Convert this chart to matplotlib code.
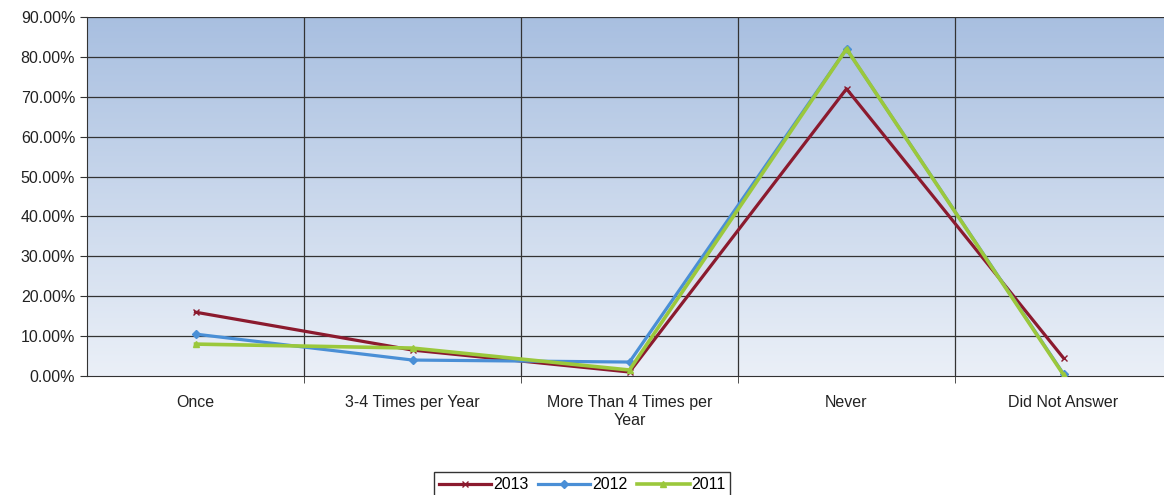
import matplotlib.pyplot as plt
import numpy as np
from matplotlib.ticker import FuncFormatter

plt.rcParams['font.family'] = ['Liberation Sans', 'DejaVu Sans']

categories = ['Once', '3-4 Times per Year', 'More Than 4 Times per\nYear', 'Never', 'Did Not Answer']
vals_2013 = [16.0, 6.5, 1.0, 72.0, 4.5]
vals_2012 = [10.5, 4.0, 3.5, 82.0, 0.5]
vals_2011 = [8.0, 7.0, 1.5, 82.0, 0.3]

fig = plt.figure(figsize=(11.64, 4.95), dpi=100)
# plot area runs a bit past the right edge like the original export
ax = fig.add_axes([87 / 1164, 1 - 376 / 495, 1085 / 1164, 359 / 495])

# blue gradient background, darker at the top
grad = np.linspace(0, 1, 256).reshape(-1, 1)
top = np.array([0.66, 0.75, 0.88])
bot = np.array([0.92, 0.94, 0.97])
img = bot + (top - bot) * grad
ax.imshow(img[:, None, :].repeat(2, axis=1), extent=[0, 1, 0, 1], transform=ax.transAxes,
          aspect='auto', origin='lower', zorder=0)

x = np.arange(len(categories))
ax.set_xlim(-0.5, len(categories) - 0.5)
ax.set_ylim(0, 90)
ax.set_yticks(np.arange(0, 91, 10))
ax.yaxis.set_major_formatter(FuncFormatter(lambda v, p: '%.2f%%' % v))

for yv in np.arange(10, 91, 10):
    ax.axhline(yv, color='#333333', lw=0.9, zorder=1)
for xv in np.arange(0.5, len(categories) - 0.5, 1):
    ax.axvline(xv, color='#333333', lw=0.9, zorder=1)

ax.plot(x, vals_2013, color='#8b1a2e', lw=2.3, marker='x', ms=4, mew=1.0, label='2013', zorder=3)
ax.plot(x, vals_2012, color='#4a8fd6', lw=2.3, marker='D', ms=4, label='2012', zorder=4)
ax.plot(x, vals_2011, color='#9bc83c', lw=2.6, marker='^', ms=4, label='2011', zorder=5)

ax.set_xticks(x)
ax.set_xticklabels(categories, fontsize=11.5, color='#222222')
for lbl in ax.get_xticklabels():
    lbl.set_x(lbl.get_position()[0])
ax.set_xticks(np.arange(0.5, len(categories) - 0.5, 1), minor=True)
ax.tick_params(axis='x', which='major', length=0, pad=14)
ax.tick_params(axis='x', which='minor', length=5, color='#333333')
ax.tick_params(axis='y', length=5, labelsize=11.5, labelcolor='#222222', color='#333333')

for s in ['top', 'right']:
    ax.spines[s].set_visible(False)
ax.spines['left'].set_color('#333333')
ax.spines['bottom'].set_color('#333333')

fig.legend(loc='lower center', bbox_to_anchor=(0.5, -0.02), ncol=3, frameon=True,
           fancybox=False, edgecolor='black', fontsize=11.5, handlelength=3.3,
           columnspacing=0.6, handletextpad=0.1, borderpad=0.3)

fig.savefig('out.png', dpi=100)
